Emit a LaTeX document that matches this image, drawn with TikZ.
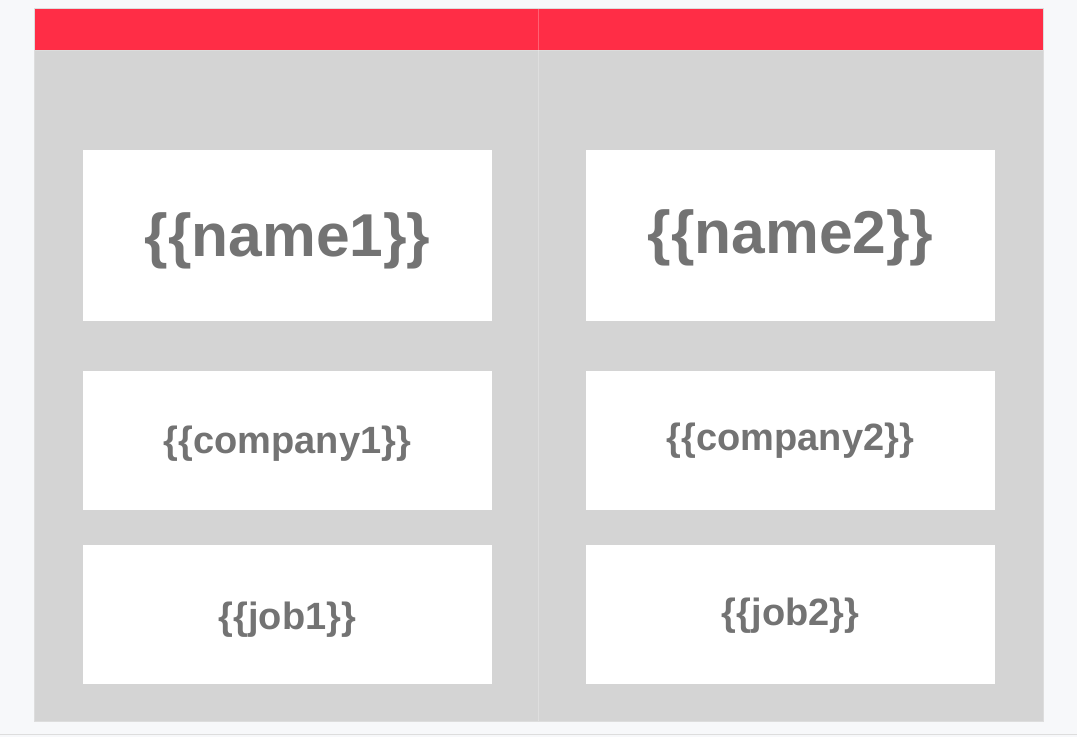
\documentclass[tikz,border=0pt]{standalone}
\usepackage{fontspec}
\setmainfont{Liberation Sans}
\definecolor{pagebg}{HTML}{F7F8FA}
\definecolor{panelgray}{HTML}{D4D4D4}
\definecolor{headred}{HTML}{FF2D46}
\definecolor{fieldtext}{HTML}{737373}
\definecolor{edgegray}{HTML}{DDDDDD}

\begin{document}
\begin{tikzpicture}[
    x=1pt,
    y=-1pt,
    every node/.style={
        font=\bfseries\fontsize{38}{46}\selectfont,
        text=fieldtext,
        inner sep=0pt,
    },
    bigfield/.style={
        font=\bfseries\fontsize{60.5}{72}\selectfont,
    },
]
    \useasboundingbox (0,0) rectangle (1077,737);
    \fill[pagebg] (0,0) rectangle (1077,737);
    \draw[edgegray, line width=0.8pt] (0,734.5) -- (1077,734.5);
    % card and header
    \fill[edgegray] (34,8) rectangle (1044,722);
    \fill[panelgray] (35,9) rectangle (1043,721);
    \fill[headred] (35,9) rectangle (1043,50);
    \draw[white, opacity=0.25, line width=1pt] (538,9) -- (538,721);
    \draw[white, opacity=0.2, line width=0.8pt] (35,50) -- (1043,50);
    % white fields, left and right column
    \foreach \x in {83,586} {
        \fill[white] (\x,150) rectangle ++(409,171);
        \fill[white] (\x,371) rectangle ++(409,139);
        \fill[white] (\x,545) rectangle ++(409,139);
    }
    \node[bigfield] (name1) at (287.5,241) {\{\{name1\}\}};
    \node[bigfield] (name2) at (790.5,238) {\{\{name2\}\}};
    \node (company1) at (287.5,444) {\{\{company1\}\}};
    \node (company2) at (790.5,441) {\{\{company2\}\}};
    \node (job1) at (287.5,620) {\{\{job1\}\}};
    \node (job2) at (790.5,616) {\{\{job2\}\}};
\end{tikzpicture}
\end{document}
